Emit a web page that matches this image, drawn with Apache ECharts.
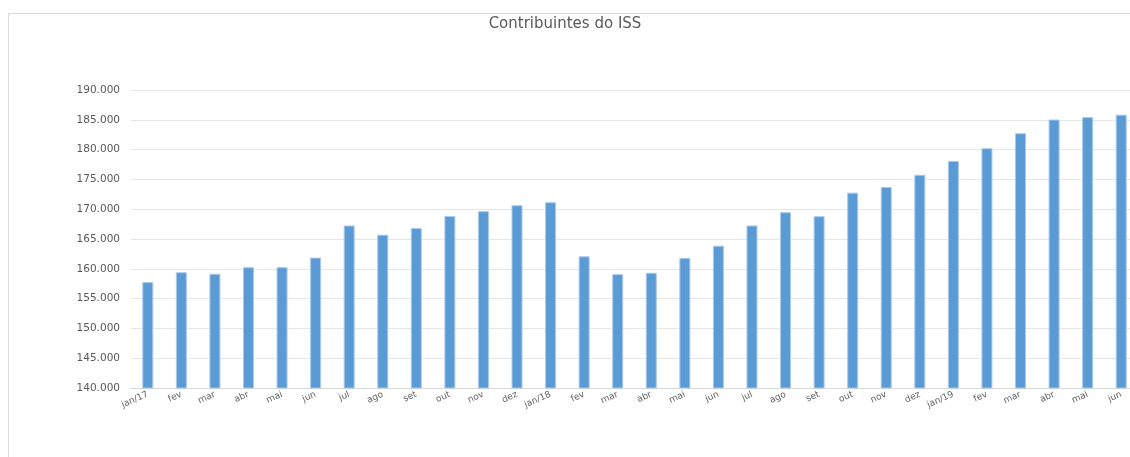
<!DOCTYPE html>
<html>
<head>
<meta charset="utf-8">
<script src="https://cdn.jsdelivr.net/npm/echarts@6/dist/echarts.min.js"></script>
<style>
  html, body { margin: 0; padding: 0; background: #fff; }
  #chart { width: 1130px; height: 457px; }
</style>
</head>
<body>
<div id="chart"></div>
<script>
  // meses (jan/17 .. jun/19)
  var meses = ['jan/17', 'fev', 'mar', 'abr', 'mai', 'jun', 'jul', 'ago', 'set', 'out', 'nov', 'dez',
    'jan/18', 'fev', 'mar', 'abr', 'mai', 'jun', 'jul', 'ago', 'set', 'out', 'nov', 'dez',
    'jan/19', 'fev', 'mar', 'abr', 'mai', 'jun']
  // número de contribuintes
  var contribuintes = [157770, 159430, 159170, 160270, 160270, 161880, 167270, 165720, 166830, 168880, 169670, 170670,
    171170, 162100, 159100, 159330, 161830, 163880, 167270, 169500, 168830, 172770, 173720, 175770,
    178100, 180230, 182750, 185050, 185450, 185850]

  function milhar(v) {
    return String(v).replace(/\B(?=(\d{3})+(?!\d))/g, '.')
  }

  var myChart = echarts.init(document.getElementById('chart'))
  var option = {
    backgroundColor: '#ffffff',
    animation: false,
    title: {
      text: 'Contribuintes do ISS',
      left: 'center',
      top: 12,
      textStyle: {
        color: '#595959',
        fontWeight: 'normal',
        fontSize: 15,
        fontFamily: 'DejaVu Sans'
      }
    },
    // moldura da área do gráfico (só topo e esquerda ficam visíveis)
    graphic: [{
      type: 'line',
      shape: { x1: 8.5, y1: 13.5, x2: 1130, y2: 13.5 },
      style: { stroke: '#d9d9d9', lineWidth: 1 },
      silent: true
    }, {
      type: 'line',
      shape: { x1: 8.5, y1: 13.5, x2: 8.5, y2: 457 },
      style: { stroke: '#d9d9d9', lineWidth: 1 },
      silent: true
    }],
    grid: {
      left: 131,
      width: 1007,
      top: 90,
      height: 298,
      outerBoundsMode: 'none'
    },
    xAxis: {
      type: 'category',
      data: meses,
      axisLine: { lineStyle: { color: '#d9d9d9' } },
      axisTick: { show: false },
      axisLabel: {
        interval: 0,
        rotate: 24,
        margin: 6,
        color: '#666666',
        fontSize: 9,
        fontFamily: 'DejaVu Sans'
      }
    },
    yAxis: {
      type: 'value',
      min: 140000,
      max: 190000,
      interval: 5000,
      axisLine: { show: false },
      axisTick: { show: false },
      splitLine: { lineStyle: { color: '#e6e6e6' } },
      axisLabel: {
        margin: 11,
        color: '#595959',
        fontSize: 10.5,
        fontFamily: 'DejaVu Sans',
        formatter: milhar
      }
    },
    series: [{
      name: 'Contribuintes',
      type: 'bar',
      barWidth: 11,
      data: contribuintes,
      itemStyle: {
        color: '#5b9bd5',
        borderColor: '#a9c9ea',
        borderWidth: 1
      }
    }]
  }
  myChart.setOption(option)
</script>
</body>
</html>
